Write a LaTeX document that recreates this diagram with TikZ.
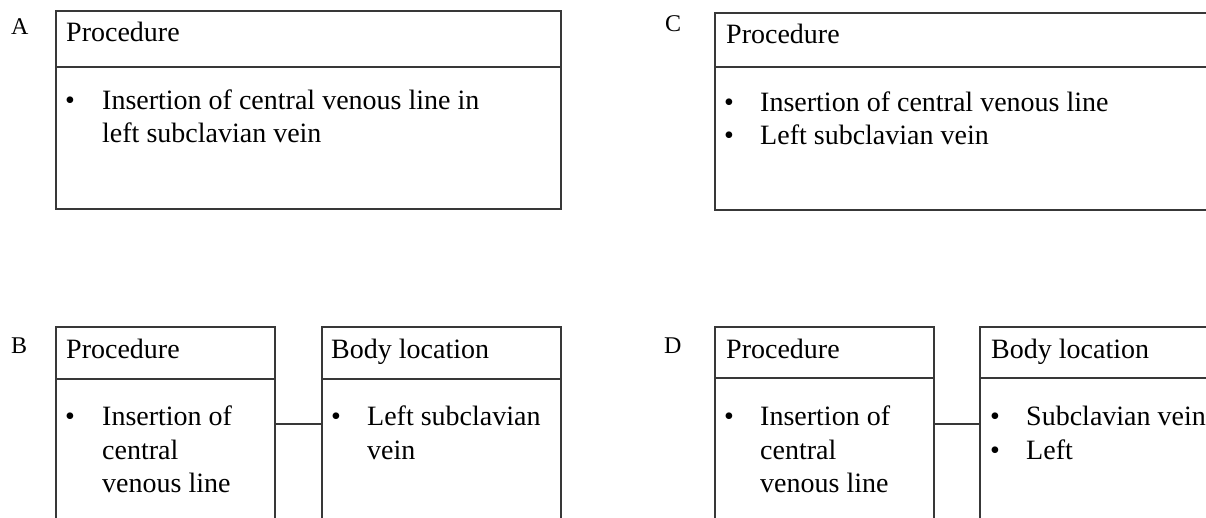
\documentclass[tikz,border=0pt]{standalone}
\usepackage{fontspec}
\setmainfont{Liberation Serif}
\begin{document}
\begin{tikzpicture}[x=1pt,y=-1pt,
  box/.style={draw=black!78, line width=1.6pt, anchor=north west, inner sep=0pt},
  rule/.style={draw=black!78, line width=1.6pt},
  link/.style={draw=black!78, line width=1.3pt},
  txt/.style={anchor=base west, inner sep=0pt, font=\fontsize{28}{33}\selectfont},
  tag/.style={anchor=base west, inner sep=0pt, font=\fontsize{24}{28}\selectfont}]
\clip (0,0) rectangle (1206,518);

% ---------- A ----------
\node[tag] (la) at (11,35) {A};
\node[box, minimum width=505pt, minimum height=198pt] (A) at (55,10) {};
\coordinate (hA) at (0,67);
\draw[rule] (A.west |- hA) -- (A.east |- hA);
\node[txt] (Ah) at (66,42) {Procedure};
\node[txt] (Ab) at (65,110) {•};
\node[txt] (A1) at (102,110) {Insertion of central venous line in};
\node[txt] (A2) at (102,143) {left subclavian vein};

% ---------- C ----------
\node[tag] (lc) at (665,32) {C};
\node[box, minimum width=510pt, minimum height=197pt] (C) at (714,12) {};
\coordinate (hC) at (0,67);
\draw[rule] (C.west |- hC) -- (C.east |- hC);
\node[txt] (Ch) at (726,44) {Procedure};
\node[txt] (Cb1) at (724,112) {•};
\node[txt] (C1) at (760,112) {Insertion of central venous line};
\node[txt] (Cb2) at (724,145) {•};
\node[txt] (C2) at (760,145) {Left subclavian vein};

% ---------- B ----------
\node[tag] (lb) at (11,353) {B};
\node[box, minimum width=219pt, minimum height=230pt] (Bp) at (55,326) {};
\node[box, minimum width=239pt, minimum height=230pt] (Bl) at (321,326) {};
\coordinate (hB) at (0,379);
\draw[rule] (Bp.west |- hB) -- (Bp.east |- hB);
\draw[rule] (Bl.west |- hB) -- (Bl.east |- hB);
\coordinate (jB) at (0,424);
\draw[link] (Bp.east |- jB) -- (Bl.west |- jB);
\node[txt] (Bph) at (66,358) {Procedure};
\node[txt] (Bpb) at (65,425) {•};
\node[txt] (Bp1) at (102,425) {Insertion of};
\node[txt] (Bp2) at (102,459) {central};
\node[txt] (Bp3) at (102,492) {venous line};
\node[txt] (Blh) at (331,358) {Body location};
\node[txt] (Blb) at (331,425) {•};
\node[txt] (Bl1) at (367,425) {Left subclavian};
\node[txt] (Bl2) at (367,459) {vein};

% ---------- D ----------
\node[tag] (ld) at (664,353) {D};
\node[box, minimum width=219pt, minimum height=230pt] (Dp) at (714,326) {};
\node[box, minimum width=260pt, minimum height=230pt] (Dl) at (979,326) {};
\coordinate (hD) at (0,378);
\draw[rule] (Dp.west |- hD) -- (Dp.east |- hD);
\draw[rule] (Dl.west |- hD) -- (Dl.east |- hD);
\coordinate (jD) at (0,424);
\draw[link] (Dp.east |- jD) -- (Dl.west |- jD);
\node[txt] (Dph) at (726,358) {Procedure};
\node[txt] (Dpb) at (724,425) {•};
\node[txt] (Dp1) at (760,425) {Insertion of};
\node[txt] (Dp2) at (760,459) {central};
\node[txt] (Dp3) at (760,492) {venous line};
\node[txt] (Dlh) at (991,358) {Body location};
\node[txt] (Dlb1) at (990,425) {•};
\node[txt] (Dl1) at (1026,425) {Subclavian vein};
\node[txt] (Dlb2) at (990,459) {•};
\node[txt] (Dl2) at (1026,459) {Left};
\end{tikzpicture}
\end{document}
